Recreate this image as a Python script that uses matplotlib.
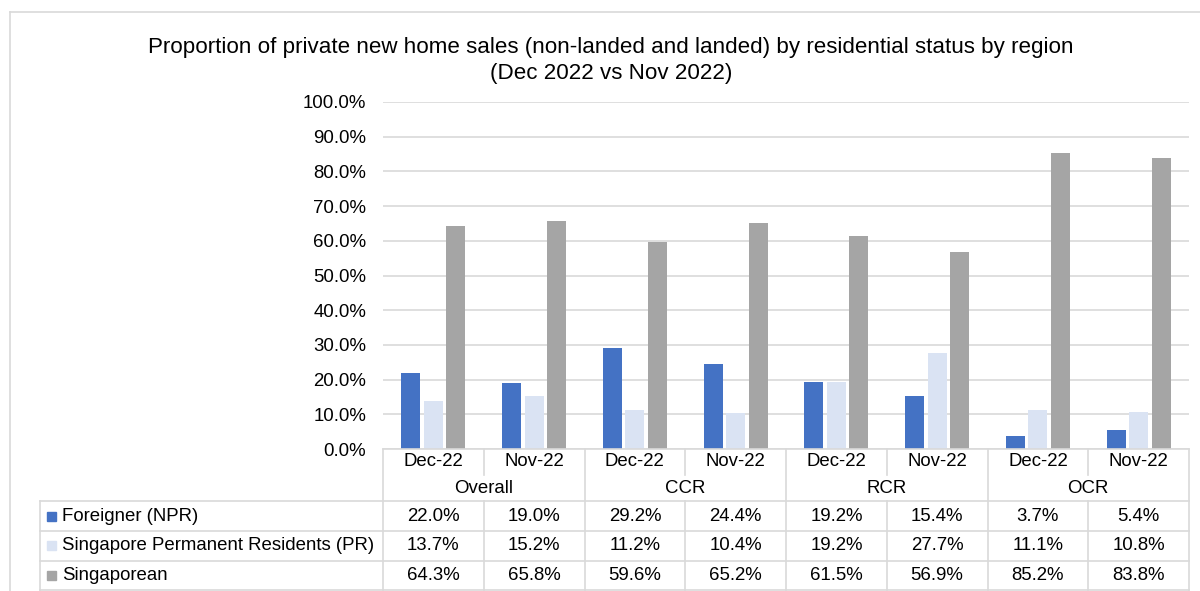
import matplotlib
matplotlib.use("Agg")
import matplotlib.pyplot as plt
from matplotlib.patches import Rectangle
import numpy as np

plt.rcParams['font.family'] = ['Liberation Sans', 'DejaVu Sans']

regions = ['Overall', 'CCR', 'RCR', 'OCR']
months = ['Dec-22', 'Nov-22']
series = ['Foreigner (NPR)', 'Singapore Permanent Residents (PR)', 'Singaporean']
foreigner = [22.0, 19.0, 29.2, 24.4, 19.2, 15.4, 3.7, 5.4]
pr = [13.7, 15.2, 11.2, 10.4, 19.2, 27.7, 11.1, 10.8]
singaporean = [64.3, 65.8, 59.6, 65.2, 61.5, 56.9, 85.2, 83.8]
colors = ['#4472C4', '#DAE3F3', '#A5A5A5']
line_col = '#D9D9D9'

W, H = 1200, 591
fig = plt.figure(figsize=(W / 100, H / 100), dpi=100)
fs = 13.4

# outer chart border (top and left visible)
fig.add_artist(plt.Line2D([10 / W, 1], [1 - 12 / H, 1 - 12 / H], color=line_col, lw=1.2))
fig.add_artist(plt.Line2D([10 / W, 10 / W], [0, 1 - 12 / H], color=line_col, lw=1.2))

# title
fig.text(611 / W, 1 - 47 / H, 'Proportion of private new home sales (non-landed and landed) by residential status by region',
         ha='center', va='center', fontsize=16.1)
fig.text(611 / W, 1 - 73 / H, '(Dec 2022 vs Nov 2022)', ha='center', va='center', fontsize=16.1)

# plot area
ax = fig.add_axes([383 / W, 1 - 449 / H, 806 / W, 347 / H])
x = np.arange(len(foreigner))
values = [foreigner, pr, singaporean]
offsets = [-0.223, 0, 0.223]
for vals, off, c in zip(values, offsets, colors):
    ax.bar(x + off, vals, width=0.19, color=c, zorder=3)

ax.set_xlim(-0.5, 7.5)
ax.set_ylim(0, 100)
ticks = np.arange(0, 101, 10)
ax.set_yticks(ticks)
ax.set_yticklabels([f'{t:.1f}%' for t in ticks], fontsize=fs)
ax.set_xticks([])
ax.tick_params(axis='y', length=0, pad=12)
ax.grid(axis='y', color=line_col, lw=1.2, zorder=0)
for s in ax.spines.values():
    s.set_visible(False)

# data table below the plot
ppu = 806 / 8  # pixels per category
left_u = -0.5 - (383 - 40) / ppu
tab = fig.add_axes([40 / W, 0, (1189 - 40) / W, (H - 449) / H])
tab.set_xlim(left_u, 7.5)
tab.set_ylim(H, 449)
tab.axis('off')

row_edges = [501.5, 531, 561, 590.5]
kw = dict(color=line_col, lw=1.2, clip_on=False)
tab.plot([-0.5, 7.5], [449, 449], **kw)
for y in row_edges:
    tab.plot([left_u, 7.5], [y, y], **kw)
tab.plot([left_u, left_u], [501.5, 590.5], **kw)
for b in [-0.5, 1.5, 3.5, 5.5, 7.5]:
    tab.plot([b, b], [449, 590.5], **kw)
for b in [0.5, 2.5, 4.5, 6.5]:
    tab.plot([b, b], [449, 475], **kw)
    tab.plot([b, b], [501.5, 590.5], **kw)

for i in range(len(foreigner)):
    tab.text(i, 462, months[i % 2], ha='center', va='center', fontsize=fs)
for r, name in enumerate(regions):
    tab.text(2 * r + 0.5, 489, name, ha='center', va='center', fontsize=fs)

for k, (name, vals, c) in enumerate(zip(series, values, colors)):
    yc = (row_edges[k] + row_edges[k + 1]) / 2
    tab.add_patch(Rectangle((left_u + 7 / ppu, yc - 4.5), 9 / ppu, 9, color=c, clip_on=False))
    tab.text(left_u + 22 / ppu, yc, name, ha='left', va='center', fontsize=fs)
    for i, v in enumerate(vals):
        tab.text(i, yc, f'{v:.1f}%', ha='center', va='center', fontsize=fs)

fig.savefig('out.png', dpi=100)
